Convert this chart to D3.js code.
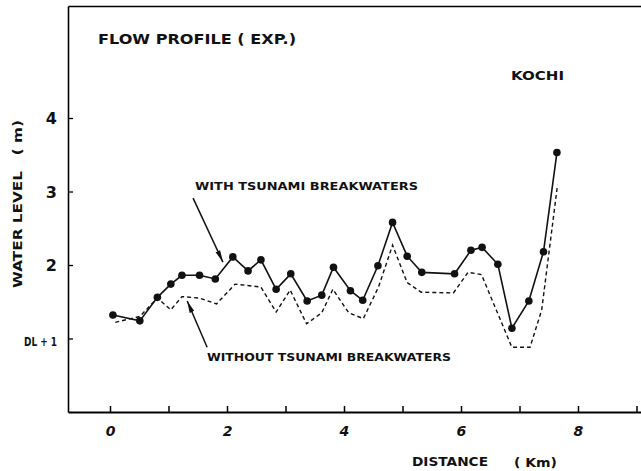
<!DOCTYPE html>
<html>
<head>
<meta charset="utf-8">
<script src="https://cdn.jsdelivr.net/npm/d3@7"></script>
<style>
  body { margin: 0; background: #fff; }
  text { font-family: "DejaVu Sans", sans-serif; font-weight: bold; fill: #111; }
</style>
</head>
<body>
<div id="chart"></div>
<script>
// Water level with breakwaters (solid line with dots)
const withKm = [0.05, 0.51, 0.81, 1.04, 1.23, 1.53, 1.80, 2.10, 2.36, 2.58, 2.84, 3.09, 3.37, 3.62, 3.82,
  4.11, 4.32, 4.58, 4.83, 5.08, 5.33, 5.89, 6.17, 6.36, 6.63, 6.87, 7.16, 7.41, 7.64];
const withLevel = [1.32, 1.24, 1.56, 1.74, 1.86, 1.86, 1.81, 2.11, 1.92, 2.07, 1.67, 1.88, 1.51, 1.59, 1.97,
  1.65, 1.52, 1.99, 2.58, 2.12, 1.90, 1.88, 2.20, 2.24, 2.01, 1.14, 1.51, 2.18, 3.53];

// Water level without breakwaters (dashed line)
const withoutKm = [0.09, 0.51, 0.81, 1.04, 1.23, 1.53, 1.82, 2.14, 2.58, 2.84, 3.08, 3.36, 3.62, 3.81,
  4.08, 4.33, 4.59, 4.83, 5.08, 5.32, 5.87, 6.12, 6.35, 6.87, 7.18, 7.38, 7.65];
const withoutLevel = [1.22, 1.30, 1.55, 1.39, 1.57, 1.55, 1.47, 1.74, 1.70, 1.36, 1.66, 1.20, 1.35, 1.67,
  1.35, 1.27, 1.70, 2.27, 1.76, 1.63, 1.62, 1.90, 1.87, 0.88, 0.88, 1.39, 3.09];

const xTicks = [0, 1, 2, 3, 4, 5, 6, 7, 8, 9];
const xTickLabels = ["0", "", "2", "", "4", "", "6", "", "8", ""];
const yTicks = [1, 2, 3, 4];
const yTickLabels = ["DL + 1", "2", "3", "4"];

const width = 641;
const height = 471;
const margin = { top: 6, right: 0, bottom: 59, left: 68 };

let xScale = d3.scaleLinear()
  .domain([-0.718, 9.077])
  .range([margin.left, width - margin.right]);
let yScale = d3.scaleLinear()
  .domain([0, 5.524])
  .range([height - margin.bottom, margin.top]);

let svg = d3.select("#chart")
  .append("svg")
  .attr("width", width)
  .attr("height", height);

// arrow head
svg.append("defs").append("marker")
  .attr("id", "arrow")
  .attr("viewBox", "0 0 12 6")
  .attr("refX", 12)
  .attr("refY", 3)
  .attr("markerWidth", 12)
  .attr("markerHeight", 6)
  .attr("markerUnits", "userSpaceOnUse")
  .attr("orient", "auto")
  .append("path")
  .attr("d", "M0,0.5 L12,3 L0,5.5 Z")
  .attr("fill", "#111");

// Axes
let xAxis = svg.append("g")
  .attr("transform", `translate(0,${yScale(0)})`)
  .call(d3.axisBottom(xScale)
    .tickValues(xTicks)
    .tickSize(-6)
    .tickSizeOuter(0)
    .tickFormat((d, i) => xTickLabels[i]));
xAxis.select(".domain").attr("stroke-width", 1.8);
xAxis.selectAll(".tick line").attr("stroke-width", 1.5);
xAxis.selectAll(".tick text")
  .attr("y", 14)
  .attr("font-size", 14)
  .attr("font-style", "italic")
  .attr("font-family", "DejaVu Sans")
  .attr("font-weight", "bold")
  .attr("fill", "#111");

let yAxis = svg.append("g")
  .attr("transform", `translate(${margin.left},0)`)
  .call(d3.axisLeft(yScale)
    .tickValues(yTicks)
    .tickSize(-5)
    .tickSizeOuter(0)
    .tickFormat((d, i) => yTickLabels[i]));
yAxis.select(".domain").attr("stroke-width", 1.6);
yAxis.selectAll(".tick line").attr("stroke-width", 1.3);
yAxis.selectAll(".tick text")
  .attr("x", -11)
  .attr("font-family", "DejaVu Sans")
  .attr("font-weight", "bold")
  .attr("fill", "#111")
  .attr("font-size", d => d === 1 ? 12 : 16)
  .attr("dy", d => d === 1 ? "0.55em" : "0.35em")
  .attr("textLength", d => d === 1 ? 33 : null)
  .attr("lengthAdjust", "spacingAndGlyphs");

// top frame line
svg.append("g")
  .attr("transform", `translate(0,${yScale.range()[1]})`)
  .call(d3.axisTop(xScale).tickValues([]).tickSizeOuter(0))
  .select(".domain").attr("stroke-width", 1.4);

// Lines
let withData = withKm.map((d, i) => ({ km: d, level: withLevel[i] }));
let withoutData = withoutKm.map((d, i) => ({ km: d, level: withoutLevel[i] }));

let line = d3.line()
  .x(d => xScale(d.km))
  .y(d => yScale(d.level));

svg.append("path")
  .datum(withoutData)
  .attr("fill", "none")
  .attr("stroke", "#111")
  .attr("stroke-width", 1.4)
  .attr("stroke-dasharray", "4,3")
  .attr("d", line);

svg.append("path")
  .datum(withData)
  .attr("fill", "none")
  .attr("stroke", "#111")
  .attr("stroke-width", 1.6)
  .attr("d", line);

svg.selectAll("circle.with")
  .data(withData)
  .enter()
  .append("circle")
  .attr("class", "with")
  .attr("cx", d => xScale(d.km))
  .attr("cy", d => yScale(d.level))
  .attr("r", 3.8)
  .attr("fill", "#111");

// Annotation arrows (data coordinates)
const arrows = [
  { from: [1.42, 2.91], to: [1.93, 2.04] },
  { from: [1.66, 0.88], to: [1.32, 1.51] }
];
svg.selectAll("line.arrow")
  .data(arrows)
  .enter()
  .append("line")
  .attr("class", "arrow")
  .attr("x1", d => xScale(d.from[0]))
  .attr("y1", d => yScale(d.from[1]))
  .attr("x2", d => xScale(d.to[0]))
  .attr("y2", d => yScale(d.to[1]))
  .attr("stroke", "#111")
  .attr("stroke-width", 1.5)
  .attr("marker-end", "url(#arrow)");

// Texts
function label(str, x, y, size, len) {
  return svg.append("text")
    .attr("x", x)
    .attr("y", y)
    .attr("font-size", size)
    .attr("textLength", len)
    .attr("lengthAdjust", "spacingAndGlyphs")
    .text(str);
}
label("FLOW PROFILE ( EXP.)", 98, 44, 14, 198);
label("KOCHI", 511, 80, 13, 53);
label("WITH TSUNAMI BREAKWATERS", 195, 190, 11, 223);
label("WITHOUT TSUNAMI BREAKWATERS", 207, 361, 11, 244);
label("DISTANCE", 412, 466, 13, 76);
label("( Km)", 514, 467, 13, 43);

svg.append("text")
  .attr("transform", "translate(22,288) rotate(-90)")
  .attr("font-size", 12)
  .attr("textLength", 168)
  .attr("lengthAdjust", "spacingAndGlyphs")
  .style("white-space", "pre")
  .text("WATER LEVEL   ( m)");
</script>
</body>
</html>
